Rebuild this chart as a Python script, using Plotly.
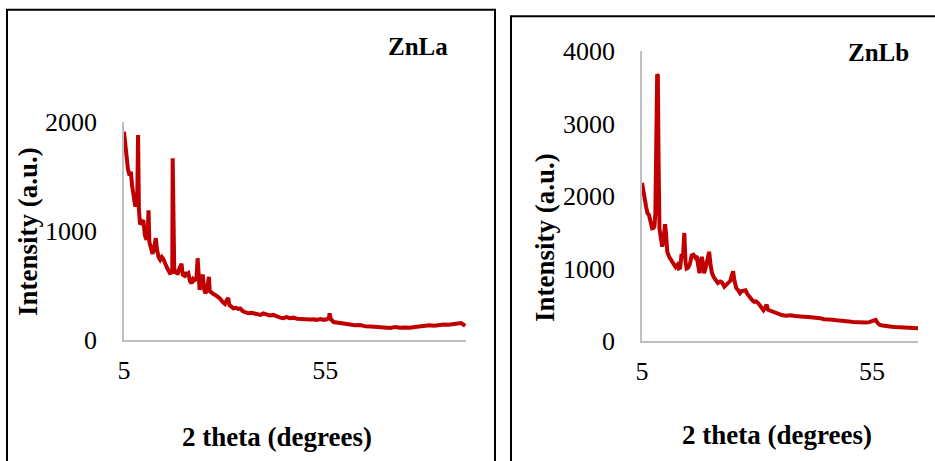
import plotly.graph_objects as go

W, H = 935, 461

# ---------------- data ----------------
znla_theta = [5.0, 5.3, 5.6, 6.0, 6.4, 6.7, 7.0, 7.4, 7.8, 8.1, 8.3, 8.5, 8.7, 9.0, 9.4, 9.8,
              10.2, 10.6, 10.9, 11.1, 11.3, 11.7, 12.1, 12.5, 12.9, 13.2, 13.6, 14.0, 14.4, 14.8,
              15.2, 15.6, 16.0, 16.4, 16.8, 17.0, 17.1, 17.25, 17.5, 17.9, 18.3, 18.7, 19.0, 19.3,
              19.6, 20.0, 20.3, 20.6, 21.0, 21.4, 21.8, 22.2, 22.6, 23.0, 23.3, 23.5, 23.8, 24.2,
              24.6, 24.9, 25.2, 25.6, 25.9, 26.1, 26.3, 26.8, 27.3, 27.8, 28.3, 28.9, 29.5, 30.1,
              30.6, 30.9, 31.2, 31.7, 32.2, 32.8, 33.4, 33.9, 34.5, 35.1, 35.9, 36.7, 37.5, 38.3,
              38.9, 39.6, 40.4, 41.2, 42.1, 42.9, 43.8, 44.6, 45.4, 46.2, 47.1, 48.0, 48.8, 49.6,
              50.5, 51.3, 52.1, 52.9, 53.8, 54.6, 55.4, 55.9, 56.1, 56.4, 57.1, 58.0, 59.0, 60.0,
              61.2, 62.4, 63.7, 65.0, 66.3, 67.6, 68.8, 70.0, 71.2, 72.4, 73.6, 74.8, 76.1, 77.3,
              78.5, 79.7, 80.9, 82.1, 83.3, 84.5, 85.7, 86.9, 88.0, 88.8, 89.8]
znla_int = [1910, 1800, 1700, 1560, 1510, 1545, 1420, 1300, 1225, 1250, 1300, 1880, 1200, 1060, 1080, 1100,
            960, 920, 1000, 1190, 900, 820, 790, 850, 935, 830, 760, 735, 760, 740,
            690, 670, 640, 615, 620, 650, 1667, 640, 610, 640, 600, 650, 690, 700,
            600, 590, 620, 600, 612, 540, 520, 560, 550, 560, 750, 520, 460, 540,
            600, 470, 430, 450, 560, 580, 450, 430, 420, 410, 400, 380, 350, 330,
            370, 385, 320, 300, 290, 295, 285, 290, 265, 255, 245, 250, 240, 235,
            230, 244, 232, 225, 230, 215, 205, 200, 210, 200, 205, 195, 192, 190,
            195, 188, 190, 185, 192, 185, 190, 200, 245, 190, 165, 160, 150, 148,
            140, 135, 138, 125, 123, 120, 115, 118, 110, 120, 112, 115, 112, 120,
            125, 128, 135, 130, 140, 142, 140, 148, 150, 155, 130]

znlb_theta = [5.0, 5.3, 5.65, 5.9, 6.2, 6.5, 6.7, 7.0, 7.2, 7.5, 7.7, 7.9, 8.1, 8.3, 8.45, 8.6,
              8.8, 9.1, 9.4, 9.7, 10.0, 10.2, 10.5, 10.9, 11.3, 11.7, 12.0, 12.3, 12.7, 13.0,
              13.3, 13.6, 13.9, 14.2, 14.45, 14.7, 15.0, 15.4, 15.8, 16.2, 16.6, 16.9, 17.2, 17.5,
              17.8, 18.0, 18.3, 18.5, 18.8, 19.2, 19.6, 19.9, 20.2, 20.6, 21.0, 21.5, 22.0, 22.4,
              22.9, 23.4, 23.8, 24.2, 24.5, 24.8, 25.1, 25.5, 25.9, 26.3, 26.7, 27.1, 27.5, 27.9,
              28.2, 28.6, 29.0, 29.4, 29.8, 30.3, 30.7, 31.1, 31.4, 31.8, 32.1, 32.4, 32.8, 33.2,
              33.8, 34.5, 35.4, 36.3, 37.3, 38.3, 39.3, 40.2, 41.1, 41.9, 42.8, 43.7, 44.6, 45.5,
              46.4, 47.3, 48.2, 49.1, 50.0, 50.9, 51.9, 52.8, 53.6, 54.4, 54.9, 55.4, 55.8, 56.2,
              56.7, 57.3, 58.0, 58.7, 59.3, 60.0, 60.8, 61.5, 62.2, 63.0, 63.8, 64.5, 65.0]
znlb_int = [2180, 2050, 1940, 1850, 1760, 1740, 1690, 1600, 1555, 1560, 1580, 1750, 2800, 3680, 3660, 2500,
            1550, 1420, 1300, 1400, 1610, 1500, 1230, 1160, 1120, 1090, 1040, 1020, 1050, 1000,
            1010, 1200, 1150, 1490, 1100, 1000, 1010, 1060, 1180, 1190, 1150, 1170, 1050, 935,
            1100, 1160, 1050, 935, 1000, 1150, 1230, 1050, 940, 880, 850, 800, 820, 810,
            750, 780, 820, 830, 900, 960, 830, 730, 700, 660, 690, 700, 700, 650,
            620, 600, 560, 540, 545, 520, 470, 450, 425, 470, 500, 430, 420, 405,
            390, 370, 358, 350, 355, 345, 345, 335, 330, 327, 320, 315, 300, 290,
            292, 285, 275, 266, 268, 262, 255, 253, 255, 260, 266, 285, 290, 250,
            221, 215, 205, 200, 197, 193, 190, 188, 184, 180, 178, 175, 175]

panel_titles = ["ZnLa", "ZnLb"]
x_title = "2 theta (degrees)"
y_title = "Intensity (a.u.)"
x_ticks = [5, 55]
y_ticks_a = [0, 1000, 2000]
y_ticks_b = [0, 1000, 2000, 3000, 4000]

# ---------------- figure ----------------
RED = "#C00000"
GRAY = "#BFBFBF"
FONT = "Liberation Serif, Times New Roman, serif"

def px(x):
    return x / W

def py(y):
    return 1 - y / H

fig = go.Figure()
fig.add_trace(go.Scatter(x=znla_theta, y=znla_int, mode="lines",
                         line=dict(color=RED, width=4), xaxis="x", yaxis="y",
                         showlegend=False, hoverinfo="skip"))
fig.add_trace(go.Scatter(x=znlb_theta, y=znlb_int, mode="lines",
                         line=dict(color=RED, width=4), xaxis="x2", yaxis="y2",
                         showlegend=False, hoverinfo="skip"))

axis_common = dict(showline=True, linecolor=GRAY, linewidth=1.5, showgrid=False,
                   zeroline=False, ticks="", automargin=False,
                   tickfont=dict(family=FONT, size=26, color="#000"))

fig.update_layout(
    width=W, height=H, margin=dict(l=0, r=0, t=0, b=0, pad=0, autoexpand=False),
    paper_bgcolor="white", plot_bgcolor="white",
    xaxis=dict(domain=[px(124), px(466)], range=[5, 90], tickvals=x_ticks,
               anchor="y", ticklabelstandoff=6, **axis_common),
    yaxis=dict(domain=[py(340), py(122)], range=[0, 2000], tickvals=y_ticks_a,
               anchor="x", ticklabelstandoff=20, **axis_common),
    xaxis2=dict(domain=[px(642), px(918)], range=[5, 65], tickvals=x_ticks,
                anchor="y2", ticklabelstandoff=6, **axis_common),
    yaxis2=dict(domain=[py(341), py(51)], range=[0, 4000], tickvals=y_ticks_b,
                anchor="x2", ticklabelstandoff=20, **axis_common),
)

# panel borders
fig.add_shape(type="rect", xref="paper", yref="paper",
              x0=px(7), x1=px(495), y0=-0.2, y1=py(9.7),
              line=dict(color="black", width=2), fillcolor="rgba(0,0,0,0)", layer="above")
fig.add_shape(type="rect", xref="paper", yref="paper",
              x0=px(511), x1=1.2, y0=-0.2, y1=py(16.3),
              line=dict(color="black", width=2), fillcolor="rgba(0,0,0,0)", layer="above")

ann = [
    (418, 47, panel_titles[0], 0, 25),
    (878, 53, panel_titles[1], 0, 25),
    (277, 437, x_title, 0, 27),
    (777, 435, x_title, 0, 27),
    (28, 232, y_title, -90, 27),
    (545, 238, y_title, -90, 27),
]
for (ax_, ay_, txt, rot, sz) in ann:
    fig.add_annotation(x=px(ax_), y=py(ay_), xref="paper", yref="paper", text=txt,
                       showarrow=False, textangle=rot, xanchor="center", yanchor="middle",
                       font=dict(family=FONT, size=sz, color="#000", weight="bold"))

fig.write_html("out.html")
